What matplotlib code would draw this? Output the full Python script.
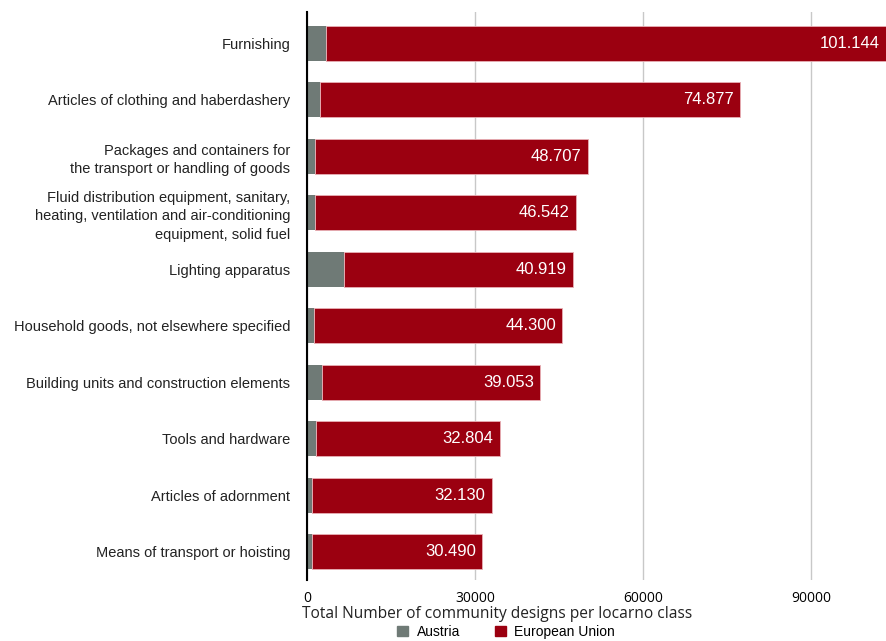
import matplotlib.pyplot as plt
from matplotlib.patches import Patch

categories = [
    'Furnishing',
    'Articles of clothing and haberdashery',
    'Packages and containers for\nthe transport or handling of goods',
    'Fluid distribution equipment, sanitary,\nheating, ventilation and air-conditioning\nequipment, solid fuel',
    'Lighting apparatus',
    'Household goods, not elsewhere specified',
    'Building units and construction elements',
    'Tools and hardware',
    'Articles of adornment',
    'Means of transport or hoisting',
]
austria = [3340, 2380, 1430, 1430, 6610, 1250, 2620, 1600, 840, 840]
eu = [101144, 74877, 48707, 46542, 40919, 44300, 39053, 32804, 32130, 30490]
eu_labels = ['101.144', '74.877', '48.707', '46.542', '40.919',
             '44.300', '39.053', '32.804', '32.130', '30.490']

grey = '#6f7a76'
red = '#9b0010'

fig = plt.figure(figsize=(8.86, 6.41), dpi=100)
ax = fig.add_axes([307 / 886, 1 - 580 / 641, 1 - 307 / 886, (580 - 12) / 641])

y = list(range(len(categories)))
ax.barh(y, austria, height=0.62, color=grey, edgecolor='none', zorder=2)
ax.barh(y, eu, left=austria, height=0.62, color=red, edgecolor='#e8b0b5',
        linewidth=0.6, zorder=2)

for i in y:
    end = austria[i] + eu[i]
    ax.text(min(end, 103400) - 1100, i, eu_labels[i], color='white',
            ha='right', va='center', fontsize=12, family='Liberation Sans', zorder=3)

ax.set_xlim(0, 103400)
ax.set_ylim(9.5, -0.55)
ax.set_yticks(y)
ax.set_yticklabels(categories, fontsize=10.5, family='Liberation Sans',
                   color='#222222', linespacing=1.4)
ax.set_xticks([0, 30000, 60000, 90000])
ax.set_xticklabels(['0', '30000', '60000', '90000'], fontsize=10, family='Open Sans')
ax.tick_params(length=0, pad=8)
ax.tick_params(axis='y', pad=12)
ax.xaxis.grid(True, color='#c8c8c8', linewidth=1, zorder=0)
for s in ['top', 'right', 'bottom']:
    ax.spines[s].set_visible(False)
ax.spines['left'].set_color('black')
ax.spines['left'].set_linewidth(1.5)
ax.spines['left'].set_zorder(4)

fig.text(497 / 886, 1 - 614 / 641, 'Total Number of community designs per locarno class',
         ha='center', va='center', fontsize=11.2, family='Open Sans', color='#222222')

handles = [Patch(color=grey, label='Austria'), Patch(color=red, label='European Union')]
fig.legend(handles=handles, loc='center', bbox_to_anchor=(506 / 886, 1 - 632 / 641),
           ncol=2, frameon=False, prop={'family': 'Liberation Sans', 'size': 10},
           handlelength=0.8, handleheight=0.8, columnspacing=2.5, handletextpad=0.6,
           borderpad=0)

fig.savefig('out.png', dpi=100)
